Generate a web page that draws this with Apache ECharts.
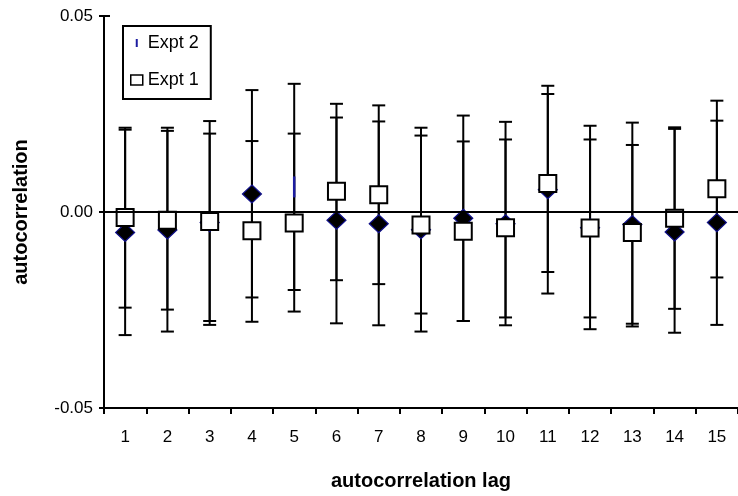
<!DOCTYPE html>
<html>
<head>
<meta charset="utf-8">
<script src="https://cdn.jsdelivr.net/npm/echarts@6/dist/echarts.min.js"></script>
<style>
html,body{margin:0;padding:0;background:#fff;}
#chart{width:738px;height:496px;}
</style>
</head>
<body>
<div id="chart"></div>
<script>
// ---- data ----
const lags = ['1','2','3','4','5','6','7','8','9','10','11','12','13','14','15'];
const yTicks = [-0.05, 0.00, 0.05];

const expt1     = [-0.0014,-0.0021,-0.0024,-0.0048,-0.0028, 0.0053, 0.0044,-0.0033,-0.0049,-0.0040, 0.0073,-0.0041,-0.0052,-0.0016, 0.0059];
const expt1Low  = [-0.0244,-0.0249,-0.0278,-0.0280,-0.0254,-0.0174,-0.0184,-0.0259,-0.0278,-0.0269,-0.0153,-0.0269,-0.0285,-0.0247,-0.0167];
const expt1High = [ 0.0215, 0.0207, 0.0232, 0.0181, 0.0200, 0.0276, 0.0272, 0.0195, 0.0180, 0.0185, 0.0301, 0.0185, 0.0171, 0.0212, 0.0284];

const expt2     = [-0.0052,-0.0046,-0.0027, 0.0046, 0.0064,-0.0021,-0.0030,-0.0045,-0.0016,-0.0030, 0.0057,-0.0040,-0.0032,-0.0051,-0.0027];
const expt2Low  = [-0.0314,-0.0305,-0.0288,-0.0218,-0.0199,-0.0284,-0.0289,-0.0305,-0.0278,-0.0289,-0.0208,-0.0299,-0.0292,-0.0308,-0.0288];
const expt2High = [ 0.0210, 0.0215, 0.0200, 0.0311, 0.0327, 0.0241, 0.0231, 0.0215, 0.0246, 0.0230, 0.0322, 0.0220, 0.0228, 0.0216, 0.0233];

// ---- build options ----
const FONT = '"Liberation Sans", Arial, sans-serif';
const chart = echarts.init(document.getElementById('chart'), null, {renderer: 'canvas'});

function errBarData(lo, hi) {
  return lags.map((l, i) => [i, lo[i], hi[i]]);
}
function renderErr(params, api) {
  const x = api.value(0);
  const p1 = api.coord([x, api.value(1)]);
  const p2 = api.coord([x, api.value(2)]);
  const w = 6.5;
  const st = {stroke: '#000', lineWidth: 2};
  return {
    type: 'group',
    children: [
      {type: 'line', shape: {x1: p1[0], y1: p1[1], x2: p2[0], y2: p2[1]}, style: st},
      {type: 'line', shape: {x1: p1[0]-w, y1: p1[1], x2: p1[0]+w, y2: p1[1]}, style: st},
      {type: 'line', shape: {x1: p2[0]-w, y1: p2[1], x2: p2[0]+w, y2: p2[1]}, style: st}
    ]
  };
}

const thinIdx = lags.indexOf('5'); // Expt 2 marker at lag 5 is drawn as a thin blue bar in the reference
const expt2Data = expt2.map((v, i) => {
  if (i === thinIdx) {
    return {value: v, symbol: 'rect', symbolSize: [2.5, 21], itemStyle: {color: '#1c1ca0', borderWidth: 0}};
  }
  return v;
});

const option = {
  backgroundColor: '#fff',
  animation: false,
  textStyle: {fontFamily: FONT, color: '#000'},
  grid: {left: 104, top: 16, bottom: 84, right: -8, containLabel: false},
  legend: {
    orient: 'vertical',
    left: 123, top: 26,
    padding: [8, 12, 10, 7],
    itemGap: 19,
    itemWidth: 12, itemHeight: 10,
    borderColor: '#000', borderWidth: 2,
    backgroundColor: '#fff',
    textStyle: {fontFamily: FONT, fontSize: 18, color: '#000'},
    data: [
      {name: 'Expt 2', icon: 'path://M0,0L0,0M12,10L12,10M5,1L7,1L7,9L5,9Z', itemStyle: {color: '#1c1ca0', borderWidth: 0}},
      {name: 'Expt 1', icon: 'rect', itemStyle: {color: '#fff', borderColor: '#000', borderWidth: 1.5}}
    ]
  },
  xAxis: {
    type: 'category',
    data: lags,
    boundaryGap: true,
    name: 'autocorrelation lag',
    nameLocation: 'middle',
    nameGap: 63,
    nameTextStyle: {fontFamily: FONT, fontSize: 20, fontWeight: 'bold', color: '#000'},
    axisLine: {onZero: false, lineStyle: {color: '#000', width: 2}},
    axisTick: {show: true, length: 6, lineStyle: {color: '#000', width: 2}},
    axisLabel: {interval: 0, margin: 21, fontSize: 17, fontFamily: FONT, color: '#000'},
    splitLine: {show: false}
  },
  yAxis: [
    {
      type: 'value',
      min: yTicks[0], max: yTicks[2], interval: 0.05,
      name: 'autocorrelation',
      nameLocation: 'middle',
      nameRotate: 90,
      nameGap: 73,
      nameTextStyle: {fontFamily: FONT, fontSize: 20, fontWeight: 'bold', color: '#000'},
      axisLine: {show: true, lineStyle: {color: '#000', width: 2}},
      axisTick: {show: true, length: 5, lineStyle: {color: '#000', width: 2}},
      axisLabel: {margin: 11, fontSize: 17, fontFamily: FONT, color: '#000', formatter: v => v.toFixed(2)},
      splitLine: {show: false}
    },
    {
      type: 'value',
      min: yTicks[0], max: yTicks[2], interval: 0.05,
      position: 'left',
      axisLine: {show: false},
      axisTick: {show: true, inside: true, length: 6, lineStyle: {color: '#000', width: 2}},
      axisLabel: {show: false},
      splitLine: {show: false}
    }
  ],
  series: [
    {
      name: 'err1', type: 'custom', z: 1,
      renderItem: renderErr,
      encode: {x: 0, y: [1, 2]},
      data: errBarData(expt1Low, expt1High),
      markLine: {
        silent: true, symbol: 'none',
        label: {show: false},
        lineStyle: {color: '#000', width: 2, type: 'solid'},
        data: [{yAxis: 0}]
      }
    },
    {
      name: 'err2', type: 'custom', z: 1,
      renderItem: renderErr,
      encode: {x: 0, y: [1, 2]},
      data: errBarData(expt2Low, expt2High)
    },
    {
      name: 'Expt 2', type: 'scatter', z: 3,
      symbol: 'diamond', symbolSize: [19, 18],
      itemStyle: {color: '#000', borderColor: '#10108a', borderWidth: 1.2, opacity: 1},
      data: expt2Data
    },
    {
      name: 'Expt 1', type: 'scatter', z: 4,
      symbol: 'rect', symbolSize: 17,
      itemStyle: {color: '#fff', borderColor: '#000', borderWidth: 2, opacity: 1},
      data: expt1
    }
  ]
};
chart.setOption(option);
</script>
</body>
</html>
